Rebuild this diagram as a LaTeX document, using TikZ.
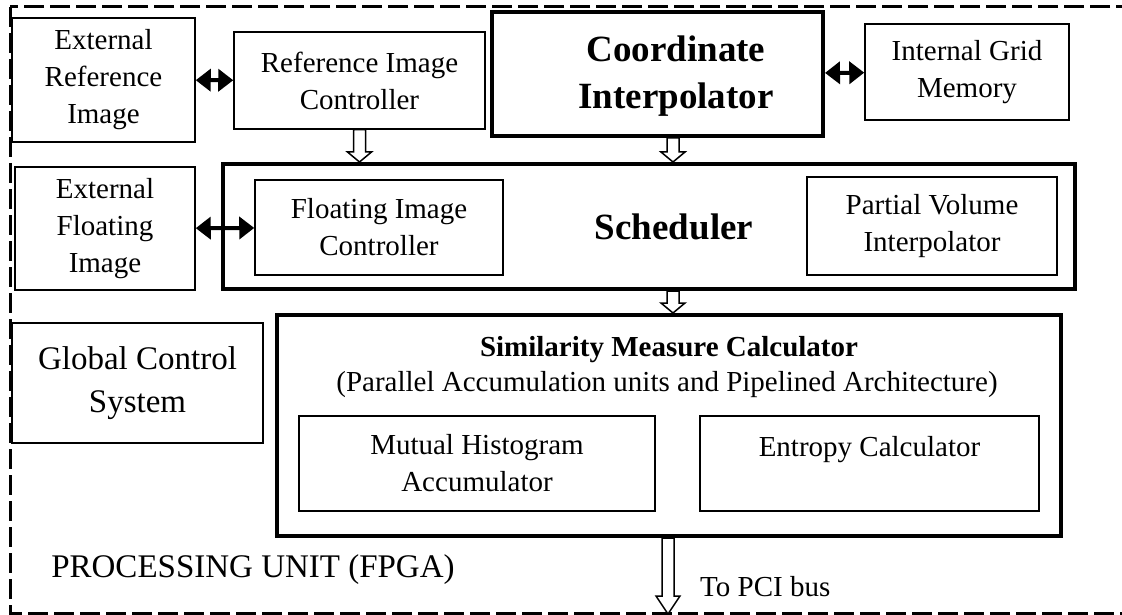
\documentclass[tikz,border=0pt]{standalone}
\usepackage{fontspec}
\setmainfont{Liberation Serif}
\usetikzlibrary{arrows.meta,calc}

\newcommand\normtext{\fontsize{29}{37}\selectfont}
\newcommand\bigtext{\fontsize{37}{47}\selectfont\bfseries}
\newcommand\hollowarrow[3][10]{%
  \draw[hollow] ([xshift=-6pt]#2) -- ([xshift=-6pt,yshift=#1pt]#3) -- ([xshift=-12pt,yshift=#1pt]#3)
    -- (#3) -- ([xshift=12pt,yshift=#1pt]#3) -- ([xshift=6pt,yshift=#1pt]#3) -- ([xshift=6pt]#2) -- cycle;}

\tikzset{
  box/.style={draw, line width=1.5pt, inner sep=0pt, align=center, font=\normtext},
  bigbox/.style={draw, line width=4pt, inner sep=0pt},
  txt/.style={inner sep=0pt, align=center, font=\normtext},
  frame/.style={line width=3pt, dash pattern=on 20pt off 6pt},
  dblarrow/.style={line width=4pt, {Triangle[length=15pt,width=22pt]}-{Triangle[length=15pt,width=22pt]}},
  hollow/.style={draw, line width=1.5pt, fill=white, line join=miter},
}

\begin{document}
\begin{tikzpicture}[x=1pt,y=-1pt]
\useasboundingbox (0,0) rectangle (1122,615);
\fill[white] (0,0) rectangle (1122,615);
\draw[frame] (10,7) rectangle (1150,613);

\node[box, minimum width=183, minimum height=124] (extref) at (103.5,80) {External\\Reference\\Image};
\node[box, minimum width=251, minimum height=97] (ric) at (359.5,80.5) {Reference Image\\Controller};
\node[bigbox, minimum width=331, minimum height=124] (ci) at (657.5,74) {};
\node[txt, font=\bigtext] (ci-text) at (676,76) {Coordinate\\Interpolator};
\node[box, minimum width=204, minimum height=96] (igm) at (967,72) {Internal Grid\\Memory};

\node[box, minimum width=180, minimum height=123] (extflt) at (105,228.5) {External\\Floating\\Image};
\node[bigbox, minimum width=852, minimum height=125] (sched) at (649,226.5) {};
\node[txt, font=\bigtext] (sched-text) at (674,227) {Scheduler};
\node[box, minimum width=248, minimum height=95] (fic) at (379,227.5) {Floating Image\\Controller};
\node[box, minimum width=250, minimum height=98] (pvi) at (932,226) {Partial Volume\\Interpolator};

\node[box, minimum width=251, minimum height=120, font=\fontsize{33}{43}\selectfont] (gcs) at (137.5,383) {Global Control\\System};
\node[bigbox, minimum width=784, minimum height=221] (sim) at (669,425.5) {};
\node[txt, font=\normtext\bfseries] (sim-title) at (669,350) {Similarity Measure Calculator};
\node[txt] (sim-sub) at (667,385) {(Parallel Accumulation units and Pipelined Architecture)};
\node[box, minimum width=356, minimum height=95] (mha) at (477,463.5) {Mutual Histogram\\Accumulator};
\node[box, minimum width=339, minimum height=95] (ent) at (869.5,463.5) {};
\node[txt] (ent-text) at (869.5,450) {Entropy Calculator};

\node[txt, font=\fontsize{33}{40}\selectfont] (fpga) at (253,570) {PROCESSING UNIT (FPGA)};
\node[txt, anchor=west] (pci-text) at (700,587) {To PCI bus};

\draw[dblarrow] (extref) -- (ric);
\draw[dblarrow] (ci) -- (igm);
\draw[dblarrow] (extflt) -- (fic);

\coordinate (ric-out) at (ric.south);
\coordinate (sched-in1) at (ric.south |- sched.north);
\coordinate (ci-out) at ([xshift=15.5pt]ci.south);
\coordinate (sched-in2) at (ci-out |- sched.north);
\coordinate (sched-out) at (ci-out |- sched.south);
\coordinate (sim-in) at (ci-out |- sim.north);
\coordinate (sim-out) at ([xshift=-1pt]sim.south);
\coordinate (pci) at ($(sim-out)+(0,76)$);
\hollowarrow{ric-out}{sched-in1}
\hollowarrow{ci-out}{sched-in2}
\hollowarrow{sched-out}{sim-in}
\hollowarrow[18]{sim-out}{pci}
\end{tikzpicture}
\end{document}
